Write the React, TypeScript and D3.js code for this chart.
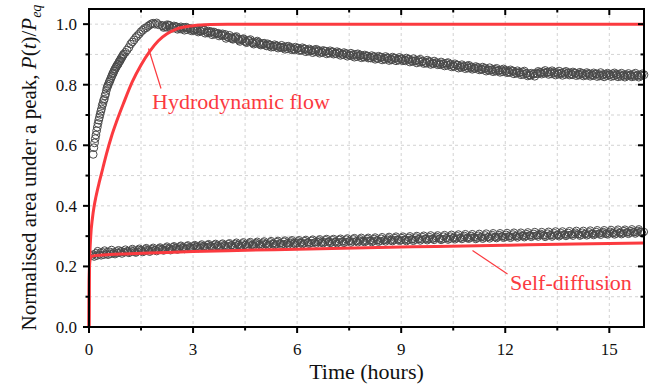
import React from "react";
import * as d3 from "d3";

// ---------- data ----------
// Hydrodynamic-flow measurement (upper series)
const hydroTimesA = d3.range(0.12, 1.0001, 0.02);
const hydroValuesA = [
  0.570, 0.592, 0.608, 0.622, 0.634, 0.648, 0.660, 0.672, 0.683, 0.692,
  0.702, 0.712, 0.720, 0.731, 0.738, 0.748, 0.752, 0.763, 0.770, 0.781,
  0.790, 0.796, 0.801, 0.808, 0.812, 0.818, 0.824, 0.829, 0.836, 0.838,
  0.845, 0.850, 0.853, 0.858, 0.862, 0.866, 0.868, 0.874, 0.878, 0.880,
  0.886, 0.889, 0.893, 0.897, 0.901,
];
const hydroTimesB = d3.range(1.05, 2.0001, 0.05);
const hydroValuesB = [
  0.907, 0.915, 0.923, 0.934, 0.941, 0.948, 0.956, 0.962, 0.968, 0.975,
  0.980, 0.986, 0.988, 0.993, 0.997, 1.001, 1.003, 1.000, 1.004, 0.998,
];
const hydroTimesC = d3.range(2.1, 16.0001, 0.1);
const hydroValuesC = [
  0.996, 0.993, 0.997, 0.990, 0.992, 0.988, 0.986, 0.990, 0.984, 0.981,
  0.983, 0.978, 0.980, 0.975, 0.972, 0.974, 0.968, 0.966, 0.962, 0.958,
  0.955, 0.957, 0.951, 0.948, 0.944, 0.946, 0.940, 0.937, 0.939, 0.933,
  0.930, 0.932, 0.927, 0.929, 0.925, 0.922, 0.926, 0.921, 0.918, 0.920,
  0.916, 0.919, 0.914, 0.912, 0.915, 0.910, 0.908, 0.911, 0.906, 0.908,
  0.904, 0.906, 0.901, 0.903, 0.899, 0.897, 0.900, 0.895, 0.893, 0.894,
  0.890, 0.892, 0.888, 0.891, 0.887, 0.889, 0.885, 0.888, 0.884, 0.886,
  0.882, 0.884, 0.880, 0.878, 0.881, 0.876, 0.874, 0.877, 0.872, 0.873,
  0.870, 0.868, 0.871, 0.866, 0.863, 0.865, 0.861, 0.859, 0.862, 0.857,
  0.855, 0.857, 0.852, 0.854, 0.850, 0.848, 0.851, 0.846, 0.849, 0.845,
  0.843, 0.846, 0.841, 0.839, 0.842, 0.836, 0.832, 0.834, 0.838, 0.841,
  0.843, 0.840, 0.842, 0.838, 0.840, 0.837, 0.841, 0.838, 0.836, 0.839,
  0.835, 0.838, 0.834, 0.837, 0.833, 0.836, 0.834, 0.831, 0.835, 0.833,
  0.836, 0.832, 0.834, 0.830, 0.833, 0.831, 0.834, 0.830, 0.832, 0.833,
];
const hydroTimesD = d3.range(2.15, 15.96, 0.1);
const hydroValuesD = [
  0.989, 0.998, 0.986, 0.994, 0.983, 0.991, 0.980, 0.987, 0.978, 0.984,
  0.974, 0.982, 0.970, 0.977, 0.965, 0.971, 0.961, 0.968, 0.953, 0.963,
  0.950, 0.959, 0.943, 0.952, 0.939, 0.949, 0.934, 0.944, 0.931, 0.937,
  0.935, 0.924, 0.932, 0.921, 0.930, 0.917, 0.927, 0.915, 0.924, 0.913,
  0.922, 0.909, 0.918, 0.906, 0.917, 0.904, 0.913, 0.902, 0.912, 0.901,
  0.909, 0.897, 0.906, 0.894, 0.904, 0.891, 0.902, 0.889, 0.898, 0.888,
  0.896, 0.884, 0.894, 0.882, 0.893, 0.880, 0.891, 0.879, 0.890, 0.879,
  0.888, 0.875, 0.886, 0.872, 0.884, 0.870, 0.881, 0.867, 0.878, 0.866,
  0.875, 0.862, 0.873, 0.859, 0.869, 0.855, 0.866, 0.853, 0.864, 0.851,
  0.860, 0.849, 0.858, 0.845, 0.856, 0.843, 0.854, 0.841, 0.852, 0.840,
  0.849, 0.836, 0.846, 0.833, 0.845, 0.829, 0.838, 0.828, 0.844, 0.835,
  0.847, 0.834, 0.846, 0.832, 0.845, 0.831, 0.844, 0.832, 0.842, 0.830,
  0.841, 0.829, 0.840, 0.828, 0.839, 0.827, 0.840, 0.826, 0.838, 0.827,
  0.839, 0.826, 0.838, 0.825, 0.837, 0.826, 0.838, 0.825, 0.836,
];
const hydroTimesE = d3.range(2.125, 15.93, 0.1);
const hydroValuesE = [
  0.994, 0.990, 0.995, 0.987, 0.991, 0.984, 0.989, 0.982, 0.986, 0.979,
  0.979, 0.976, 0.981, 0.971, 0.975, 0.967, 0.970, 0.963, 0.966, 0.956,
  0.952, 0.954, 0.947, 0.950, 0.941, 0.945, 0.938, 0.941, 0.934, 0.936,
  0.928, 0.931, 0.925, 0.928, 0.923, 0.925, 0.919, 0.923, 0.916, 0.921,
  0.913, 0.918, 0.911, 0.914, 0.909, 0.913, 0.906, 0.910, 0.904, 0.909,
  0.902, 0.905, 0.899, 0.902, 0.896, 0.900, 0.893, 0.898, 0.891, 0.895,
  0.888, 0.893, 0.886, 0.890, 0.884, 0.888, 0.882, 0.887, 0.881, 0.885,
  0.879, 0.883, 0.877, 0.880, 0.875, 0.878, 0.871, 0.875, 0.869, 0.872,
  0.866, 0.870, 0.864, 0.867, 0.860, 0.864, 0.857, 0.861, 0.855, 0.859,
  0.853, 0.856, 0.850, 0.853, 0.847, 0.850, 0.845, 0.848, 0.843, 0.847,
  0.840, 0.844, 0.838, 0.841, 0.834, 0.838, 0.831, 0.836, 0.836, 0.840,
  0.838, 0.842, 0.836, 0.841, 0.835, 0.839, 0.834, 0.840, 0.833, 0.838,
  0.832, 0.836, 0.831, 0.835, 0.830, 0.835, 0.829, 0.834, 0.830, 0.833,
  0.829, 0.834, 0.828, 0.833, 0.829, 0.832, 0.828, 0.832, 0.829,
];

// Self-diffusion measurement (lower series)
const selfTimes = d3.range(0.1, 16.0001, 0.1);
const selfValues = [
  0.236, 0.244, 0.239, 0.247, 0.241, 0.249, 0.243, 0.250, 0.246, 0.248,
  0.251, 0.247, 0.253, 0.249, 0.254, 0.250, 0.256, 0.252, 0.255, 0.257,
  0.258, 0.255, 0.260, 0.257, 0.262, 0.259, 0.263, 0.260, 0.264, 0.262,
  0.266, 0.263, 0.267, 0.264, 0.268, 0.265, 0.269, 0.266, 0.270, 0.267,
  0.270, 0.268, 0.272, 0.269, 0.271, 0.273, 0.270, 0.274, 0.272, 0.273,
  0.275, 0.272, 0.276, 0.273, 0.277, 0.274, 0.276, 0.278, 0.275, 0.277,
  0.279, 0.276, 0.280, 0.277, 0.279, 0.281, 0.278, 0.280, 0.282, 0.279,
  0.282, 0.280, 0.283, 0.281, 0.284, 0.282, 0.283, 0.285, 0.282, 0.284,
  0.286, 0.283, 0.287, 0.284, 0.286, 0.288, 0.285, 0.287, 0.289, 0.286,
  0.289, 0.287, 0.290, 0.288, 0.291, 0.289, 0.292, 0.290, 0.291, 0.293,
  0.292, 0.290, 0.294, 0.291, 0.295, 0.293, 0.294, 0.296, 0.293, 0.295,
  0.297, 0.294, 0.298, 0.295, 0.297, 0.299, 0.296, 0.298, 0.300, 0.297,
  0.300, 0.298, 0.301, 0.299, 0.302, 0.300, 0.303, 0.301, 0.302, 0.304,
  0.303, 0.301, 0.304, 0.302, 0.305, 0.303, 0.306, 0.304, 0.305, 0.307,
  0.306, 0.304, 0.308, 0.305, 0.309, 0.307, 0.308, 0.310, 0.307, 0.309,
  0.311, 0.308, 0.312, 0.309, 0.313, 0.311, 0.314, 0.312, 0.315, 0.314,
];
const selfTimes2 = d3.range(0.15, 15.96, 0.1);
const selfValues2 = [
  0.232, 0.251, 0.236, 0.253, 0.238, 0.255, 0.240, 0.254, 0.242, 0.256,
  0.244, 0.258, 0.245, 0.259, 0.247, 0.261, 0.248, 0.262, 0.250, 0.263,
  0.252, 0.266, 0.253, 0.267, 0.255, 0.269, 0.257, 0.270, 0.258, 0.271,
  0.260, 0.273, 0.261, 0.274, 0.262, 0.275, 0.263, 0.276, 0.264, 0.277,
  0.265, 0.279, 0.266, 0.280, 0.267, 0.281, 0.268, 0.282, 0.269, 0.283,
  0.269, 0.284, 0.270, 0.285, 0.271, 0.286, 0.272, 0.287, 0.273, 0.287,
  0.273, 0.288, 0.274, 0.289, 0.275, 0.290, 0.276, 0.291, 0.277, 0.291,
  0.276, 0.292, 0.277, 0.293, 0.278, 0.294, 0.279, 0.295, 0.280, 0.295,
  0.280, 0.296, 0.281, 0.297, 0.282, 0.298, 0.283, 0.299, 0.284, 0.299,
  0.283, 0.300, 0.284, 0.301, 0.285, 0.302, 0.286, 0.303, 0.287, 0.303,
  0.287, 0.304, 0.288, 0.305, 0.289, 0.306, 0.290, 0.307, 0.291, 0.307,
  0.290, 0.308, 0.291, 0.309, 0.292, 0.310, 0.293, 0.310, 0.294, 0.311,
  0.294, 0.312, 0.295, 0.312, 0.296, 0.313, 0.297, 0.314, 0.298, 0.314,
  0.297, 0.315, 0.298, 0.316, 0.299, 0.316, 0.300, 0.317, 0.301, 0.318,
  0.301, 0.318, 0.302, 0.319, 0.303, 0.320, 0.304, 0.320, 0.305, 0.321,
  0.305, 0.322, 0.306, 0.322, 0.307, 0.323, 0.308, 0.323, 0.309,
];
const selfTimes3 = d3.range(0.125, 15.93, 0.1);
const selfValues3 = [
  0.240, 0.235, 0.246, 0.238, 0.248, 0.241, 0.247, 0.244, 0.251, 0.246,
  0.249, 0.253, 0.248, 0.255, 0.251, 0.257, 0.253, 0.258, 0.254, 0.260,
  0.256, 0.262, 0.258, 0.264, 0.260, 0.266, 0.261, 0.267, 0.262, 0.268,
  0.264, 0.269, 0.265, 0.271, 0.266, 0.272, 0.267, 0.273, 0.268, 0.274,
  0.270, 0.275, 0.271, 0.276, 0.272, 0.277, 0.273, 0.278, 0.274, 0.279,
  0.274, 0.280, 0.275, 0.281, 0.276, 0.282, 0.277, 0.283, 0.278, 0.283,
  0.278, 0.284, 0.279, 0.285, 0.280, 0.286, 0.281, 0.287, 0.282, 0.287,
  0.281, 0.288, 0.282, 0.289, 0.283, 0.290, 0.284, 0.290, 0.285, 0.291,
  0.285, 0.291, 0.286, 0.292, 0.287, 0.293, 0.288, 0.294, 0.288, 0.294,
  0.288, 0.295, 0.289, 0.296, 0.290, 0.297, 0.291, 0.297, 0.292, 0.298,
  0.292, 0.299, 0.293, 0.299, 0.294, 0.300, 0.295, 0.301, 0.296, 0.301,
  0.295, 0.302, 0.296, 0.303, 0.297, 0.304, 0.298, 0.304, 0.299, 0.305,
  0.299, 0.306, 0.300, 0.306, 0.301, 0.307, 0.302, 0.308, 0.303, 0.308,
  0.302, 0.309, 0.303, 0.310, 0.304, 0.310, 0.305, 0.311, 0.306, 0.312,
  0.306, 0.312, 0.307, 0.313, 0.308, 0.314, 0.309, 0.314, 0.310, 0.315,
  0.310, 0.316, 0.311, 0.317, 0.312, 0.317, 0.313, 0.318, 0.314,
];

// Model curves
const hydroFitT = [0, 0.005, 0.02, 0.05, 0.1, 0.15, 0.2, 0.3, 0.4, 0.5, 0.65, 0.8, 1.0, 1.25, 1.5, 1.75, 2.0, 2.25, 2.5, 3.0, 3.5, 4.0, 16];
const hydroFitV = [0, 0.12, 0.22, 0.30, 0.36, 0.40, 0.43, 0.48, 0.525, 0.57, 0.63, 0.68, 0.74, 0.81, 0.865, 0.91, 0.945, 0.968, 0.983, 0.995, 0.999, 1.0, 1.0];
const selfFitT = [0, 0.005, 0.02, 0.05, 0.1, 0.3, 0.6, 1, 2, 3, 4, 6, 8, 10, 12, 14, 16];
const selfFitV = [0, 0.15, 0.215, 0.23, 0.234, 0.237, 0.239, 0.241, 0.245, 0.249, 0.252, 0.257, 0.262, 0.266, 0.270, 0.274, 0.277];

const xMajorTicks = [0, 3, 6, 9, 12, 15];
const xMinorTicks = [1.5, 4.5, 7.5, 10.5, 13.5];
const yMajorTicks = [0, 0.2, 0.4, 0.6, 0.8, 1.0];
const yMinorTicks = [0.1, 0.3, 0.5, 0.7, 0.9];

// ---------- layout ----------
const W = 658, H = 389;
const L = 89, R = 644, T = 9, B = 327;
const RED = "#fb3a3f";
const SERIF = { fontFamily: '"Liberation Serif", "Times New Roman", serif' };

function pair(ts: number[], vs: number[]) {
  return ts
    .map((t, i) => [t, vs[i]] as [number, number])
    .filter((p) => p[1] !== undefined);
}

export default function App() {
  const x = d3.scaleLinear().domain([0, 16]).range([L, R]);
  const y = d3.scaleLinear().domain([0, 1.05]).range([B, T]);

  const hydroPts = [
    ...pair(hydroTimesA, hydroValuesA),
    ...pair(hydroTimesB, hydroValuesB),
    ...pair(hydroTimesC, hydroValuesC),
    ...pair(hydroTimesE, hydroValuesE),
    ...pair(hydroTimesD, hydroValuesD),
  ];
  const selfPts = [
    ...pair(selfTimes, selfValues),
    ...pair(selfTimes3, selfValues3),
    ...pair(selfTimes2, selfValues2),
  ];

  const line = d3
    .line<[number, number]>()
    .x((d) => x(d[0]))
    .y((d) => y(d[1]))
    .curve(d3.curveMonotoneX);

  const hydroFit = pair(hydroFitT, hydroFitV);
  const selfFit = pair(selfFitT, selfFitV);

  const gridX = [...xMinorTicks, 3, 6, 9, 12, 15];
  const gridY = [...yMinorTicks, 0.2, 0.4, 0.6, 0.8, 1.0];

  return (
    <svg
      width={W}
      height={H}
      style={{ position: "absolute", left: 0, top: 0, background: "#fff" }}
    >
      <rect x={0} y={0} width={W} height={H} fill="#fff" />
      {/* grid */}
      <g stroke="#c8c8c8" strokeWidth={0.8} strokeDasharray="3,3">
        {gridX.map((v) => (
          <line key={"gx" + v} x1={x(v)} x2={x(v)} y1={T} y2={B} />
        ))}
        {gridY.map((v) => (
          <line key={"gy" + v} x1={L} x2={R} y1={y(v)} y2={y(v)} />
        ))}
      </g>

      {/* data markers */}
      <g fill="none" stroke="#4a4a4a" strokeWidth={1}>
        {hydroPts.map((p, i) => (
          <circle key={"h" + i} cx={x(p[0])} cy={y(p[1])} r={3.9} />
        ))}
        {selfPts.map((p, i) => (
          <circle key={"s" + i} cx={x(p[0])} cy={y(p[1])} r={3.6} />
        ))}
      </g>

      {/* model curves */}
      <path d={line(selfFit) || ""} fill="none" stroke={RED} strokeWidth={3} />
      <path d={line(hydroFit) || ""} fill="none" stroke={RED} strokeWidth={3} />

      {/* annotations */}
      <line x1={148.5} y1={48.5} x2={161} y2={88.5} stroke={RED} strokeWidth={1.2} />
      <text x={152} y={108.5} fontSize={22} fill={RED} style={SERIF}>Hydrodynamic flow</text>
      <line x1={472.5} y1={250.5} x2={507.5} y2={274} stroke={RED} strokeWidth={1.2} />
      <text x={510} y={289.5} fontSize={22} fill={RED} style={SERIF}>Self-diffusion</text>

      {/* frame */}
      <rect x={L} y={T} width={R - L} height={B - T} fill="none" stroke="#000" strokeWidth={2} />

      {/* ticks */}
      <g stroke="#000" strokeWidth={2}>
        {xMajorTicks.map((v) => (
          <g key={"xt" + v}>
            <line x1={x(v)} x2={x(v)} y1={B} y2={B + 6} />
            <line x1={x(v)} x2={x(v)} y1={T} y2={T + 6} />
          </g>
        ))}
        {xMinorTicks.map((v) => (
          <g key={"xm" + v}>
            <line x1={x(v)} x2={x(v)} y1={B} y2={B + 3.5} />
            <line x1={x(v)} x2={x(v)} y1={T} y2={T + 3.5} />
          </g>
        ))}
        {yMajorTicks.map((v) => (
          <g key={"yt" + v}>
            <line x1={L - 6} x2={L} y1={y(v)} y2={y(v)} />
            <line x1={R - 6} x2={R} y1={y(v)} y2={y(v)} />
          </g>
        ))}
        {yMinorTicks.map((v) => (
          <g key={"ym" + v}>
            <line x1={L - 3.5} x2={L} y1={y(v)} y2={y(v)} />
            <line x1={R - 3.5} x2={R} y1={y(v)} y2={y(v)} />
          </g>
        ))}
      </g>

      {/* tick labels */}
      {xMajorTicks.map((v) => (
        <text key={"xl" + v} x={x(v)} y={355} textAnchor="middle" fontSize={17} fill="#111" style={SERIF}>
          {v}
        </text>
      ))}
      {yMajorTicks.map((v) => (
        <text key={"yl" + v} x={77} y={y(v)} dy="0.35em" textAnchor="end" fontSize={17} fill="#111" style={SERIF}>
          {v.toFixed(1)}
        </text>
      ))}

      {/* axis titles */}
      <text x={(L + R) / 2} y={379} fontSize={22} textAnchor="middle" fill="#111" style={SERIF}>
        Time (hours)
      </text>
      <text
        transform={`translate(36, ${B / 2 + 4}) rotate(-90)`}
        fontSize={21}
        textAnchor="middle"
        fill="#111"
        style={SERIF}
      >
        Normalised area under a peak, <tspan fontStyle="italic">P</tspan>(<tspan fontStyle="italic">t</tspan>)/<tspan fontStyle="italic">P</tspan>
        <tspan fontStyle="italic" fontSize={14} dy={5}>eq</tspan>
      </text>
    </svg>
  );
}
